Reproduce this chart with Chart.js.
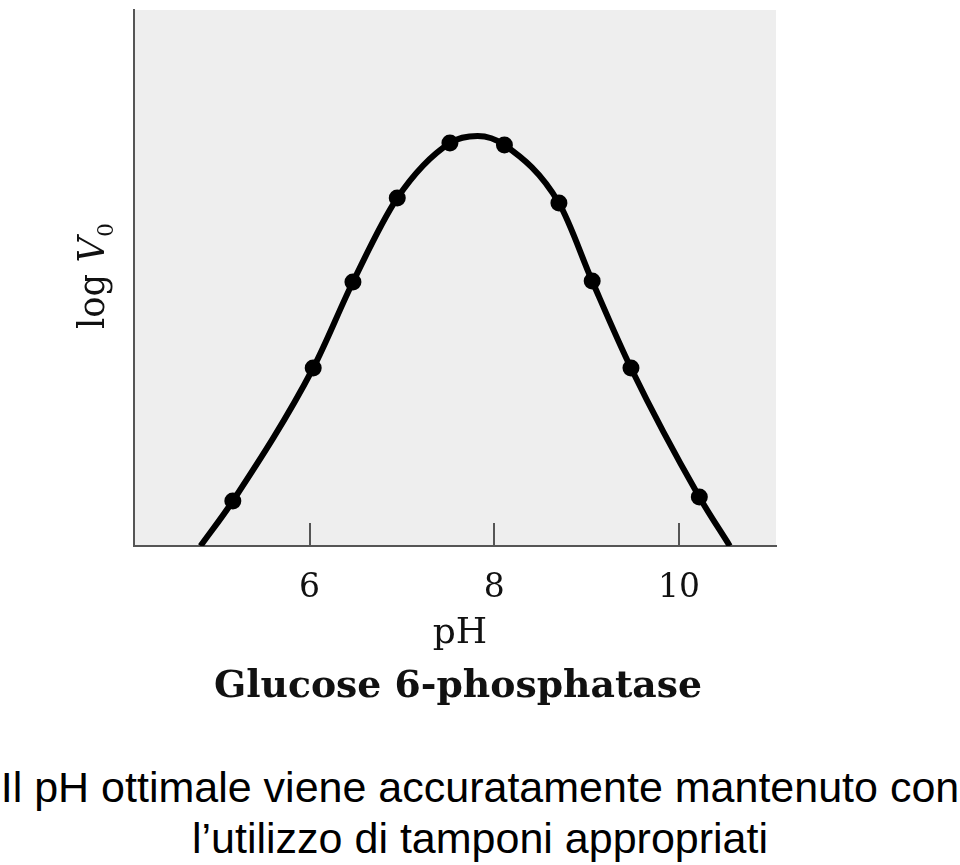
<!DOCTYPE html>
<html>
<head>
<meta charset="utf-8">
<script src="https://cdn.jsdelivr.net/npm/chart.js@4/dist/chart.umd.min.js"></script>
<style>
  html, body { margin: 0; padding: 0; background: #ffffff; }
  body { width: 960px; height: 865px; position: relative; overflow: hidden; }
  #wrap { position: absolute; left: 0; top: 0; width: 960px; height: 740px; }
  #caption {
    position: absolute; left: 0; top: 762px; width: 960px;
    font-family: "Liberation Sans", Arial, sans-serif; font-size: 43px; line-height: 51px;
    color: #000; text-align: center; white-space: nowrap;
  }
</style>
</head>
<body>
<div id="wrap"><canvas id="c" width="960" height="740"></canvas></div>
<div id="caption">Il pH ottimale viene accuratamente mantenuto con<br>l’utilizzo di tamponi appropriati</div>
<script>
// ---- data ----
const measuredPH   = [5.17, 6.04, 6.47, 6.95, 7.52, 8.11, 8.70, 9.06, 9.48, 10.22];
const measuredLogV = [0.45, 1.78, 2.64, 3.48, 4.03, 4.01, 3.43, 2.65, 1.78, 0.49];
const curvePH      = [4.82, 5.17, 6.04, 6.47, 6.95, 7.52, 7.82, 8.11, 8.70, 9.06, 9.48, 10.22, 10.55];
const curveLogV    = [0.00, 0.45, 1.78, 2.64, 3.48, 4.03, 4.10, 4.01, 3.43, 2.65, 1.78, 0.49, 0.00];
const xTickValues  = [6, 8, 10];
const xTickLabels  = ['6', '8', '10'];
const xTitle = 'pH';
const chartTitle = 'Glucose 6-phosphatase';
const yTitleParts = ['log ', 'V', '0'];

const toXY = (xs, ys) => xs.map((x, i) => ({ x: x, y: ys[i] }));

const bgPlugin = {
  id: 'bg',
  beforeDraw(chart) {
    const { ctx, chartArea: a } = chart;
    ctx.save();
    ctx.fillStyle = '#eeeeee';
    ctx.fillRect(a.left, a.top, a.right - a.left, a.bottom - a.top);
    ctx.restore();
  },
  beforeDatasetsDraw(chart) {
    const { ctx, chartArea: a } = chart;
    const xs = chart.scales.x;
    ctx.save();
    ctx.strokeStyle = '#555555';
    ctx.lineWidth = 2;
    xTickValues.forEach(v => {
      const px = Math.round(xs.getPixelForValue(v));
      ctx.beginPath();
      ctx.moveTo(px, a.bottom);
      ctx.lineTo(px, a.bottom - 23);
      ctx.stroke();
    });
    ctx.restore();
  },
  afterDraw(chart) {
    const { ctx, chartArea: a } = chart;
    const cx = (a.left + a.right) / 2;
    ctx.save();
    ctx.fillStyle = '#111111';
    ctx.textBaseline = 'alphabetic';
    ctx.textAlign = 'center';
    // x title
    ctx.font = '36px "DejaVu Serif"';
    ctx.fillText(xTitle, cx + 5, a.bottom + 97);
    // chart title (bold, below)
    ctx.font = 'bold 38px "DejaVu Serif"';
    const tw = ctx.measureText(chartTitle).width;
    ctx.save();
    ctx.translate(cx + 3, a.bottom + 151);
    ctx.scale(488 / tw, 1);
    ctx.fillText(chartTitle, 0, 0);
    ctx.restore();
    // y title: log V0 (rotated)
    ctx.textAlign = 'left';
    const fonts = ['37px "DejaVu Serif"', 'italic 37px "DejaVu Serif"', '23px "DejaVu Serif"'];
    const dys = [0, 0, 9];
    const widths = yTitleParts.map((t, i) => { ctx.font = fonts[i]; return ctx.measureText(t).width; });
    const total = widths.reduce((s, w) => s + w, 0);
    const s = Math.min(1, 106 / total);
    ctx.translate(104, (a.top + a.bottom) / 2 - 2);
    ctx.rotate(-Math.PI / 2);
    ctx.scale(s, 1);
    let x0 = -total / 2;
    yTitleParts.forEach((t, i) => {
      ctx.font = fonts[i];
      ctx.fillText(t, x0, dys[i]);
      x0 += widths[i];
    });
    ctx.restore();
  }
};

new Chart(document.getElementById('c'), {
  type: 'line',
  data: {
    datasets: [
      {
        type: 'scatter',
        data: toXY(measuredPH, measuredLogV),
        pointRadius: 8.5,
        pointHoverRadius: 8.5,
        pointBackgroundColor: '#000000',
        pointBorderColor: '#000000',
        pointBorderWidth: 0,
        showLine: false
      },
      {
        type: 'line',
        data: toXY(curvePH, curveLogV),
        borderColor: '#000000',
        borderWidth: 6,
        pointRadius: 0,
        cubicInterpolationMode: 'monotone',
        fill: false,
        clip: 0
      }
    ]
  },
  options: {
    responsive: false,
    animation: false,
    events: [],
    layout: { padding: { left: 0, top: 10, right: 184, bottom: 0 } },
    plugins: { legend: { display: false }, tooltip: { enabled: false }, title: { display: false } },
    scales: {
      x: {
        type: 'linear',
        min: 4.1,
        max: 11.05,
        afterBuildTicks(scale) { scale.ticks = xTickValues.map(v => ({ value: v })); },
        afterFit(scale) { scale.height = 194; },
        grid: { display: false },
        border: { display: true, color: '#555555', width: 2 },
        ticks: {
          color: '#111111',
          font: { family: '"DejaVu Serif"', size: 33 },
          padding: 15,
          maxRotation: 0,
          autoSkip: false,
          callback(value) { const i = xTickValues.indexOf(value); return i >= 0 ? xTickLabels[i] : ''; }
        }
      },
      y: {
        type: 'linear',
        min: 0,
        max: 5.36,
        afterFit(scale) { scale.width = 134; },
        grid: { display: false },
        border: { display: true, color: '#555555', width: 2 },
        ticks: { display: false }
      }
    }
  },
  plugins: [bgPlugin]
});
</script>
</body>
</html>
